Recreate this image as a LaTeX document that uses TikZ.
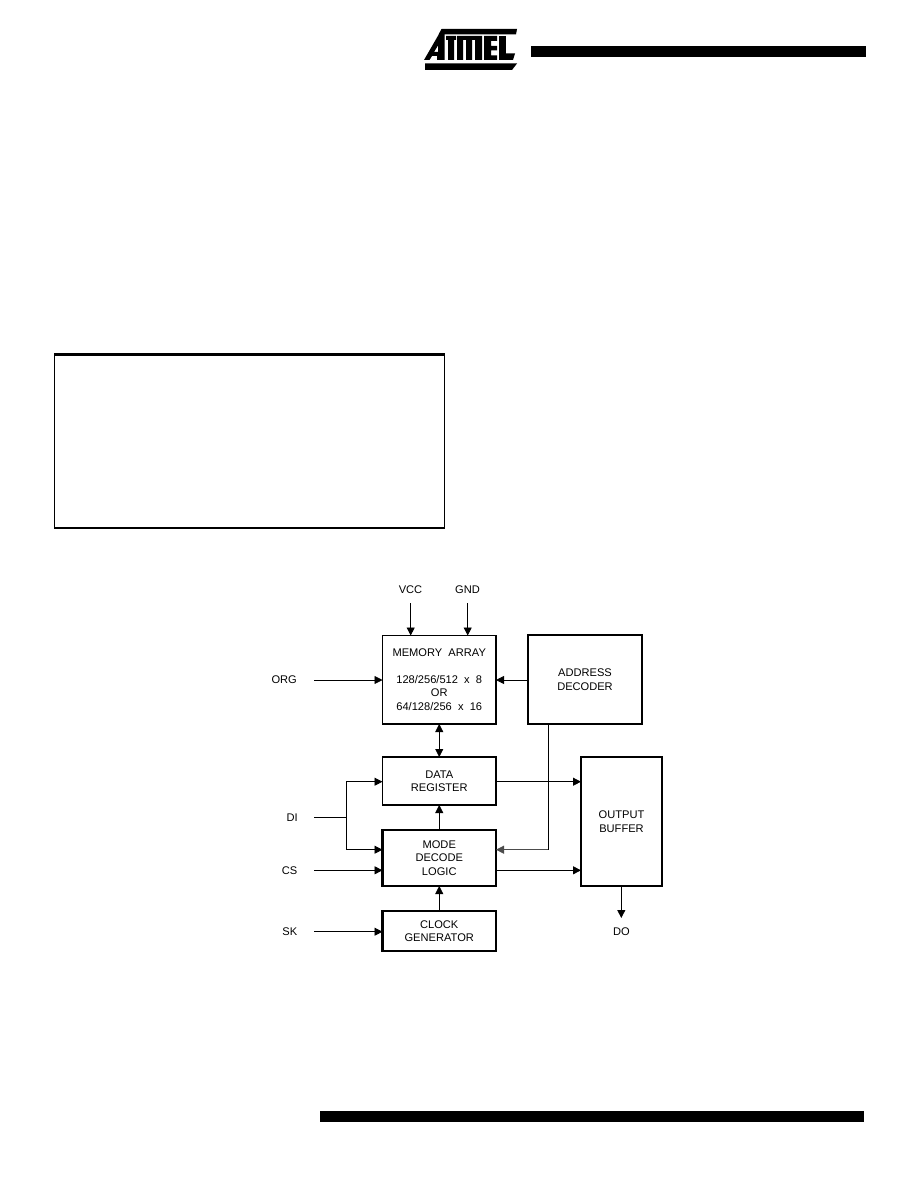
\documentclass[tikz,border=0pt]{standalone}
\usepackage{fontspec}
\setmainfont{Liberation Sans}
\usetikzlibrary{arrows.meta}
\tikzset{
  x=1pt,y=-1pt,
  blockthin/.style={draw,line width=1.2pt,outer sep=0pt,fill=white,inner sep=0,align=center,font=\fontsize{11.1}{13.4}\selectfont},
  blockbold/.style={blockthin,line width=2.1pt},
  pinlabel/.style={inner sep=0,font=\fontsize{11.1}{13}\selectfont},
  wire/.style={line width=0.8pt},
  arrowed/.style={wire,-{Triangle[length=8pt,width=8pt]}},
  biarrowed/.style={wire,{Triangle[length=8pt,width=8pt]}-{Triangle[length=8pt,width=8pt]}},
  solidblack/.style={fill=black,draw=none}
}
\newcommand{\boxat}[7]{\node[#1,minimum width=#4pt-#2pt,minimum height=#5pt-#3pt,anchor=north west] (#6) at (#2,#3) {#7};}
\begin{document}
\begin{tikzpicture}
\useasboundingbox[fill=white] (0,0) rectangle (918,1188);
% page furniture
\fill[solidblack] (531,46) rectangle (866,56.7);
\fill[solidblack] (320,1111) rectangle (864,1121.5);
\draw[line width=1.1pt] (54.5,354) -- (54.5,528) -- (444.5,528) -- (444.5,354);
\fill[solidblack] (54,353) rectangle (445,356);
% logo
\fill[solidblack] (441.5,29) -- (517,29) -- (516,34.5) -- (438.5,34.5) -- cycle;
\fill[solidblack,even odd rule] (424,60) -- (439,34) -- (444.5,34) -- (444.5,60) -- (437,60) -- (437,56) -- (432,56) -- (429.5,60) -- cycle
   (434,52) -- (438,45.5) -- (438,52) -- cycle;
\fill[solidblack] (446,36) rectangle (456,40) (448,36) rectangle (454,60);
\fill[solidblack] (457,36) rectangle (482,40) (457,36) rectangle (463,60) (466,36) rectangle (472,60) (475,36) rectangle (482,60);
\fill[solidblack] (484,36) rectangle (497,41) (484,46) rectangle (497,50.5) (484,55.5) rectangle (497,60) (484,36) rectangle (491,60);
\fill[solidblack] (499,36) rectangle (506,60);
\fill[solidblack] (499,53.5) -- (515,53.5) -- (513,60) -- (499,60) -- cycle;
\fill[solidblack] (425,63.5) -- (517,63.5) -- (512,70) -- (425,70) -- cycle;
% blocks
\boxat{blockthin}{382.5}{635.5}{496}{724}{mem}{MEMORY\ \ ARRAY\\[13.4pt]128/256/512\ \ x\ \ 8\\OR\\64/128/256\ \ x\ \ 16}
\boxat{blockbold}{528}{635}{642}{724}{addr}{ADDRESS\\DECODER}
\boxat{blockthin}{382.5}{757}{496}{805}{data}{DATA\\REGISTER}
\boxat{blockbold}{382.5}{830}{496}{886}{mode}{MODE\\DECODE\\LOGIC}
\boxat{blockbold}{382.5}{911}{496}{951}{clock}{CLOCK\\GENERATOR}
\boxat{blockbold}{581}{757}{662}{886}{outbuf}{OUTPUT\\BUFFER}
% pin labels
\node[pinlabel] (vcc) at (410.5,589.5) {VCC};
\node[pinlabel] (gnd) at (467.5,589.5) {GND};
\node[pinlabel,anchor=east] (org) at (297,680) {ORG};
\node[pinlabel,anchor=east] (di) at (298,818) {DI};
\node[pinlabel,anchor=east] (cs) at (297.5,871) {CS};
\node[pinlabel,anchor=east] (sk) at (297.5,932) {SK};
\node[pinlabel] (do) at (621.5,931.5) {DO};
\coordinate (vccs) at (410.7,603);
\coordinate (gnds) at (467.7,603);
\coordinate (orgs) at (314,680);
\coordinate (dis) at (314,817.3);
\coordinate (css) at (314,870.3);
\coordinate (sks) at (314,931.7);
\coordinate (dotip) at (621.3,918);
\coordinate (dijoin) at (346.3,817.3);
\coordinate (addrtap) at (548.3,724);
\coordinate (addrturn) at (548.3,849.7);
% connectors
\draw[arrowed] (vccs) -- (vccs |- mem.north);
\draw[arrowed] (gnds) -- (gnds |- mem.north);
\draw[arrowed] (orgs) -- (orgs -| mem.west);
\draw[arrowed] (addr.west |- orgs) -- (mem.east |- orgs);
\draw[biarrowed] (mem.south) -- (data.north);
\draw[wire] (dis) -- (dijoin);
\draw[arrowed] (dijoin) |- (data.west |- 0,781.7);
\draw[arrowed] (dijoin) |- (mode.west |- addrturn);
\draw[arrowed] (css) -- (css -| mode.west);
\draw[arrowed] (sks) -- (sks -| clock.west);
\draw[arrowed] (mode.north) -- (data.south);
\draw[arrowed] (clock.north) -- (mode.south);
\draw[arrowed] (data.east |- 0,781.7) -- (outbuf.west |- 0,781.7);
\draw[arrowed] (mode.east |- css) -- (outbuf.west |- css);
\draw[wire] (addrtap) -- (addrturn);
\draw[arrowed,draw=black!70,fill=black] (addrturn) -- (mode.east |- addrturn);
\draw[arrowed] (outbuf.south -| dotip) -- (dotip);
\end{tikzpicture}
\end{document}
